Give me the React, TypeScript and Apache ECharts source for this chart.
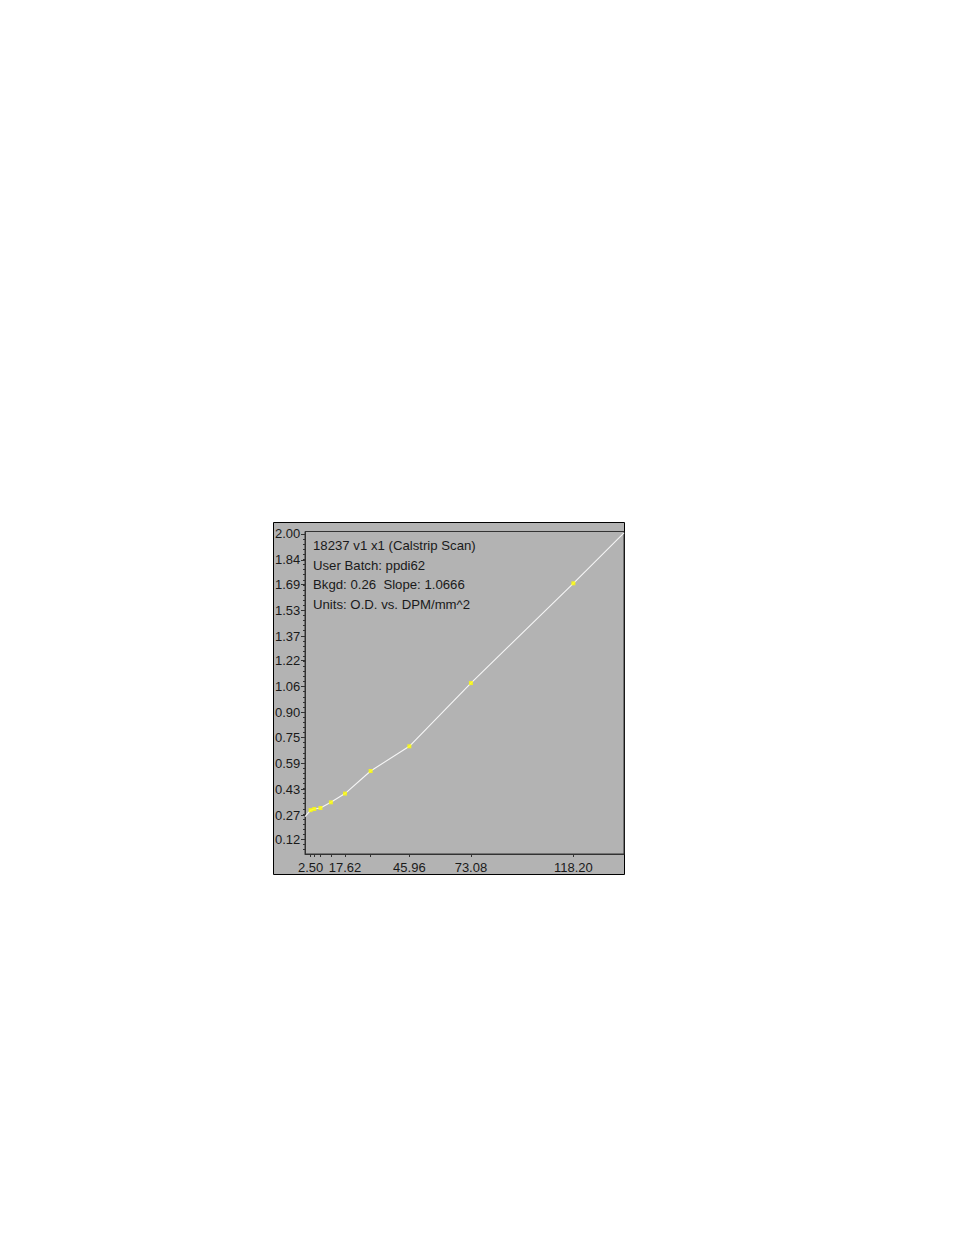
import React, { useEffect, useRef } from "react";
import * as echarts from "echarts";

// Standards (DPM/mm^2) and measured O.D.
const pointX = [2.5, 4.1, 6.8, 11.4, 17.62, 28.9, 45.96, 73.08, 118.2];
const pointY = [0.3, 0.307, 0.313, 0.348, 0.402, 0.541, 0.693, 1.082, 1.696];

// Fitted curve as drawn
const curveX = [0, 2.5, 4.1, 6.8, 11.4, 17.62, 28.9, 45.96, 73.08, 118.2, 140.5];
const curveY = [0.26, 0.3, 0.307, 0.313, 0.348, 0.402, 0.541, 0.693, 1.082, 1.696, 2.006];

const xTickValues = [2.5, 4.1, 6.8, 11.4, 17.62, 28.9, 45.96, 73.08, 118.2];
const xLabelValues = [2.5, 17.62, 45.96, 73.08, 118.2];
const yLabelValues = [2.0, 1.84, 1.69, 1.53, 1.37, 1.22, 1.06, 0.9, 0.75, 0.59, 0.43, 0.27, 0.12];

const infoLines = [
  "18237 v1 x1 (Calstrip Scan)",
  "User Batch: ppdi62",
  "Bkgd: 0.26  Slope: 1.0666",
  "Units: O.D. vs. DPM/mm^2",
];

const X_MIN = 0;
const X_MAX = 140.5;
const Y_MIN = 0.03;
const Y_MAX = 2.015;

export default function App() {
  const ref = useRef<HTMLDivElement>(null);
  useEffect(() => {
    if (!ref.current) return;
    const chart = echarts.init(ref.current, undefined, { renderer: "svg" });
    const font = "'Liberation Sans', Arial, sans-serif";
    const step = (yLabelValues[0] - yLabelValues[yLabelValues.length - 1]) / (yLabelValues.length - 1);
    const minor: number[] = [];
    for (let v = yLabelValues[0]; v > Y_MIN; v -= step / 5) {
      minor.push(Math.round(v * 10000) / 10000);
    }
    const axisColor = "#333333";
    chart.setOption({
      animation: false,
      grid: {
        left: 305,
        top: 531.5,
        width: 319,
        height: 322.5,
        show: true,
        borderColor: axisColor,
        borderWidth: 1,
        backgroundColor: "transparent",
        z: 1,
      },
      graphic: [
        {
          type: "rect",
          z: -10,
          silent: true,
          shape: { x: 273.5, y: 522.5, width: 351, height: 352 },
          style: { fill: "#b3b3b3", stroke: "#000000", lineWidth: 1 },
        },
        ...infoLines.map((t, i) => ({
          type: "text",
          left: 313,
          top: 539 + i * 19.7,
          z: 10,
          style: {
            text: t,
            font: `13.2px ${font}`,
            fill: "#1a1a1a",
          },
        })),
      ],
      xAxis: {
        type: "value",
        min: X_MIN,
        max: X_MAX,
        splitLine: { show: false },
        axisLine: { show: true, lineStyle: { color: axisColor, width: 1 } },
        axisTick: {
          show: true,
          inside: false,
          length: 3,
          customValues: xTickValues,
          lineStyle: { color: axisColor },
        },
        axisLabel: {
          customValues: xLabelValues,
          formatter: (v: number) => v.toFixed(2),
          margin: 7,
          color: "#1a1a1a",
          fontFamily: font,
          fontSize: 13,
          showMinLabel: true,
          showMaxLabel: true,
        },
      },
      yAxis: [
        {
          type: "value",
          min: Y_MIN,
          max: Y_MAX,
          splitLine: { show: false },
          axisLine: { show: true, lineStyle: { color: axisColor, width: 1 } },
          axisTick: {
            show: true,
            length: 4,
            customValues: yLabelValues,
            lineStyle: { color: axisColor },
          },
          axisLabel: {
            customValues: yLabelValues,
            formatter: (v: number) => v.toFixed(2),
            align: "left",
            margin: 30,
            color: "#1a1a1a",
            fontFamily: font,
            fontSize: 13,
          },
        },
        {
          type: "value",
          min: Y_MIN,
          max: Y_MAX,
          position: "left",
          splitLine: { show: false },
          axisLine: { show: false },
          axisLabel: { show: false },
          axisTick: {
            show: true,
            length: 2,
            customValues: minor,
            lineStyle: { color: axisColor },
          },
        },
      ],
      series: [
        {
          type: "line",
          data: curveX.map((x, i) => [x, curveY[i]]),
          showSymbol: false,
          symbol: "none",
          lineStyle: { color: "#f6f6f6", width: 1.1 },
          silent: true,
          z: 2,
        },
        {
          type: "scatter",
          data: pointX.map((x, i) => [x, pointY[i]]),
          symbol: "rect",
          symbolSize: 4,
          itemStyle: { color: "#ffff00" },
          silent: true,
          z: 3,
        },
      ],
    });
    return () => chart.dispose();
  }, []);
  return (
    <div
      ref={ref}
      style={{ position: "absolute", left: 0, top: 0, width: 954, height: 1235 }}
    />
  );
}
